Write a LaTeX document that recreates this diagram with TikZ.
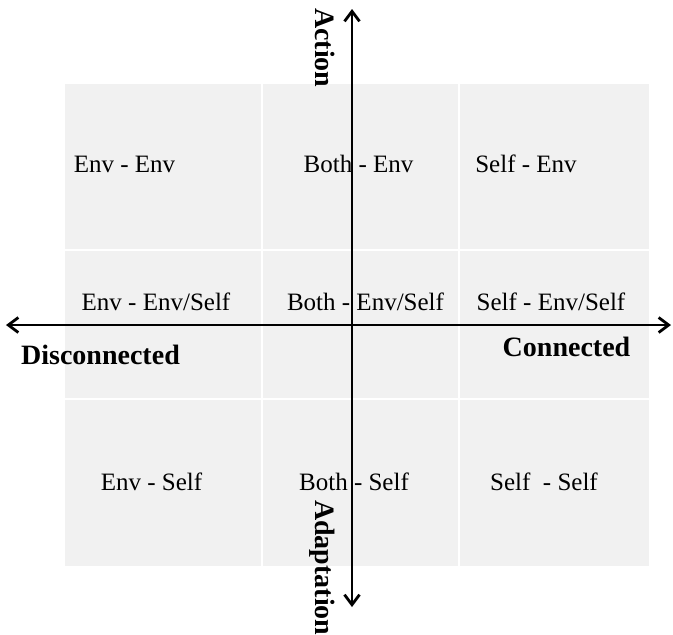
\documentclass[tikz,border=0pt]{standalone}
\usepackage{fontspec}
\setmainfont{Liberation Serif}
\usetikzlibrary{arrows.meta}
\definecolor{cellgray}{HTML}{F1F1F1}
\tikzset{
	celltext/.style={anchor=base, inner sep=0pt, font=\fontsize{25}{30}\selectfont},
	axislabel/.style={inner sep=0pt, font=\fontsize{28}{32}\selectfont\bfseries},
	axis/.style={line width=2.8pt, {Straight Barb[length=10pt,width=15pt]}-{Straight Barb[length=10pt,width=15pt]}},
	divider/.style={white, line width=1.6pt}
}
\begin{document}
\begin{tikzpicture}[x=1pt,y=-1pt]
			\useasboundingbox (0,0) rectangle (673,635);
			% grid of cells
			\fill[cellgray] (65,84) rectangle (649,566);
			\draw[divider] (262,84) -- (262,566);
			\draw[divider] (459,84) -- (459,566);
			\draw[divider] (65,250) -- (649,250);
			\draw[divider] (65,399) -- (649,399);
			% cell texts
			\node[celltext] (envenv) at (124.5,172) {Env - Env};
			\node[celltext] (bothenv) at (358.5,172) {Both - Env};
			\node[celltext] (selfenv) at (526,172) {Self - Env};
			\node[celltext] (envmix) at (156,310) {Env - Env/Self};
			\node[celltext] (bothmix) at (365.5,310) {Both - Env/Self};
			\node[celltext] (selfmix) at (551,310) {Self - Env/Self};
			\node[celltext] (envself) at (151.5,490) {Env - Self};
			\node[celltext] (bothself) at (354,490) {Both - Self};
			\node[celltext] (selfself) at (544,490) {Self\ \ - Self};
			% axes
			\coordinate (west) at (6,325);
			\coordinate (east) at (671,325);
			\coordinate (north) at (352,9);
			\coordinate (south) at (352,607);
			\draw[axis] (west) -- (east);
			\draw[axis] (south) -- (north);
			\node[axislabel, anchor=base] (disc) at (100.5,364) {Disconnected};
			\node[axislabel, anchor=base] (conn) at (566.5,356) {Connected};
			\node[axislabel, rotate=-90, anchor=base west] (action) at (315,8) {Action};
			\node[axislabel, rotate=-90, anchor=base west] (adapt) at (315,500) {Adaptation};
		\end{tikzpicture}
\end{document}
